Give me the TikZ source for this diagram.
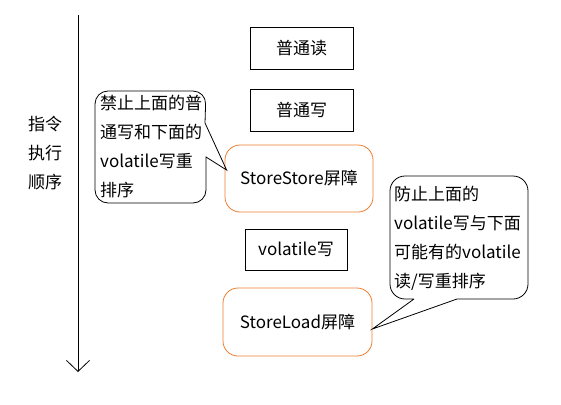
\documentclass[tikz,border=0pt]{standalone}
\usepackage{fontspec}
\setmainfont{Noto Sans CJK SC}
\usetikzlibrary{arrows.meta,calc}
\definecolor{boxorange}{HTML}{ED7D31}
\tikzset{
  plainbox/.style={draw=black, line width=0.8pt, minimum width=103pt, minimum height=42pt, inner sep=0pt, font=\fontsize{17}{20}\selectfont},
  barrier/.style={draw=boxorange, line width=0.8pt, rounded corners=15pt, inner sep=0pt, font=\fontsize{17}{20}\selectfont},
  calltext/.style={align=left, inner sep=0pt, anchor=west, font=\fontsize{17}{29}\selectfont},
  callline/.style={draw=black, line width=0.8pt},
  sidetext/.style={align=center, inner sep=0pt, font=\fontsize{17}{29}\selectfont}
}
\begin{document}
\begin{tikzpicture}[x=1pt,y=-1pt]
\useasboundingbox (0,0) rectangle (561,404);
% time axis
\coordinate (top) at (78,15);
\coordinate (bot) at (78,372);
\draw[line width=0.8pt, -{Straight Barb[length=11pt,width=23pt,line width=0.8pt]}] (top) -- (bot);
\node[sidetext] (order) at (45,153) {指令\\执行\\顺序};
% boxes
\node[plainbox] (r1) at (301.5,48) {普通读};
\node[plainbox] (w1) at (301.5,110) {普通写};
\node[barrier, minimum width=148pt, minimum height=67pt] (ss) at (299,178.5) {StoreStore屏障};
\node[plainbox, minimum width=102pt, minimum height=41pt] (vw) at (296,249.5) {volatile写};
\node[barrier, minimum width=149pt, minimum height=68pt] (sl) at (297.5,322) {StoreLoad屏障};
% callout 1
\node[calltext] (c1) at (100,147) {禁止上面的普\\通写和下面的\\volatile写重\\排序};
\coordinate (t1) at ($(ss.west)+(2,-8.5)$);
\draw[callline] (205,123) [sharp corners]-- (t1) -- (206,157) [rounded corners=13pt]-- (206,203) -- (95,203) -- (95,91) -- (206,91) [sharp corners]-- (205,123);
% callout 2
\node[calltext] (c2) at (394,238) {防止上面的\\volatile写与下面\\可能有的volatile\\读/写重排序};
\coordinate (t2) at ($(sl.east)+(0,7)$);
\draw[callline] (414,299) [sharp corners]-- (t2) -- (457,299) [rounded corners=15pt]-- (528,299) -- (528,176) -- (390,176) -- (390,299) [sharp corners]-- (414,299);
\end{tikzpicture}
\end{document}
